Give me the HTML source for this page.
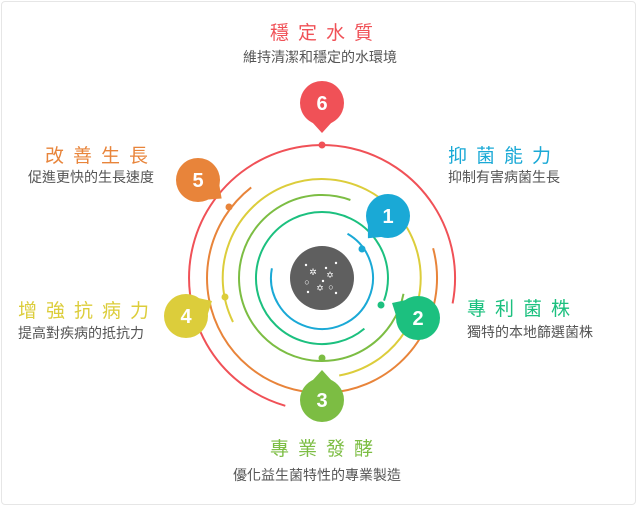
<!DOCTYPE html>
<html><head><meta charset="utf-8"><style>
html,body{margin:0;padding:0;background:#fff;}
body{width:637px;height:506px;overflow:hidden;position:relative;font-family:"Liberation Sans","Noto Sans CJK TC",sans-serif;}
.frame{position:absolute;left:1px;top:1px;width:633px;height:502px;border:1px solid #e6e6e6;border-radius:4px;}
.t{position:absolute;font-size:19px;letter-spacing:9px;white-space:nowrap;line-height:1;}
.s{position:absolute;font-size:14px;color:#555;white-space:nowrap;line-height:1;}
</style></head><body>
<div class="frame"></div>
<svg width="637" height="506" style="position:absolute;left:0;top:0">
<g fill="none" stroke-width="2">
<path stroke="#1aa9d6" d="M347.5 233.8 A51 51 0 1 1 271.9 268.3"/>
<path stroke="#1cc07f" d="M364.4 328.6 A66 66 0 1 1 384.0 300.6"/>
<path stroke="#7cbd43" d="M403.5 293.8 A83 83 0 1 1 350.4 200.0"/>
<path stroke="#dccd3b" d="M233.0 322.0 A99 99 0 1 1 339.2 375.5"/>
<path stroke="#e8843a" d="M433.1 248.2 A115 115 0 1 1 251.2 187.4"/>
<path stroke="#f05157" d="M285.3 405.8 A133 133 0 1 1 452.6 303.4"/>
</g>
<circle cx="322" cy="278" r="32" fill="#5f5f5f"/>
<g fill="#fff" font-size="9" text-anchor="middle">
<text x="313" y="275">✲</text><text x="330" y="278">✡</text><text x="320" y="291">✡</text>
<text x="307" y="285">○</text><text x="331" y="290">○</text>
<circle cx="306" cy="265" r="1.2"/><circle cx="336" cy="263" r="1.2"/><circle cx="326" cy="268" r="1.2"/><circle cx="323" cy="281" r="1.2"/><circle cx="308" cy="292" r="1.2"/><circle cx="336" cy="293" r="1.2"/>
</g>
<circle cx="322" cy="145" r="3.5" fill="#f05157"/>
<circle cx="229" cy="207" r="3.5" fill="#e8843a"/>
<circle cx="225" cy="297" r="3.5" fill="#dccd3b"/>
<circle cx="322" cy="358" r="3.5" fill="#7cbd43"/>
<circle cx="381" cy="305" r="3.5" fill="#1cc07f"/>
<circle cx="362" cy="249" r="3.5" fill="#1aa9d6"/>
<g font-family="Liberation Sans,sans-serif" font-weight="bold" font-size="20" fill="#fff" text-anchor="middle">
<g transform="translate(322,103)"><path fill="#f05157" d="M-10 19 L0 30 L10 19Z"/><circle r="22" fill="#f05157"/><text y="7">6</text></g>
<g transform="translate(388,216)"><path transform="rotate(42)" fill="#1aa9d6" d="M-10 19 L0 30 L10 19Z"/><circle r="22" fill="#1aa9d6"/><text y="7">1</text></g>
<g transform="translate(198,180)"><path transform="rotate(-52)" fill="#e8843a" d="M-10 19 L0 30 L10 19Z"/><circle r="22" fill="#e8843a"/><text y="7">5</text></g>
<g transform="translate(418,318)"><path transform="rotate(120)" fill="#1cc07f" d="M-10 19 L0 30 L10 19Z"/><circle r="22" fill="#1cc07f"/><text y="7">2</text></g>
<g transform="translate(186,316)"><path transform="rotate(-120)" fill="#dccd3b" d="M-10 19 L0 30 L10 19Z"/><circle r="22" fill="#dccd3b"/><text y="7">4</text></g>
<g transform="translate(322,400)"><path transform="rotate(180)" fill="#7cbd43" d="M-10 19 L0 30 L10 19Z"/><circle r="22" fill="#7cbd43"/><text y="7">3</text></g>
</g>
</svg>
<div class="t" style="left:270px;top:24px;color:#f05157">穩定水質</div>
<div class="s" style="left:243px;top:50px">維持清潔和穩定的水環境</div>
<div class="t" style="left:45px;top:147px;color:#e8843a">改善生長</div>
<div class="s" style="left:28px;top:170px">促進更快的生長速度</div>
<div class="t" style="left:448px;top:147px;color:#1aa9d6">抑菌能力</div>
<div class="s" style="left:448px;top:170px">抑制有害病菌生長</div>
<div class="t" style="left:18px;top:302px;color:#dccd3b">增強抗病力</div>
<div class="s" style="left:18px;top:326px">提高對疾病的抵抗力</div>
<div class="t" style="left:467px;top:300px;color:#1cc07f">專利菌株</div>
<div class="s" style="left:467px;top:325px">獨特的本地篩選菌株</div>
<div class="t" style="left:270px;top:440px;color:#7cbd43">專業發酵</div>
<div class="s" style="left:233px;top:468px">優化益生菌特性的專業製造</div>
</body></html>
